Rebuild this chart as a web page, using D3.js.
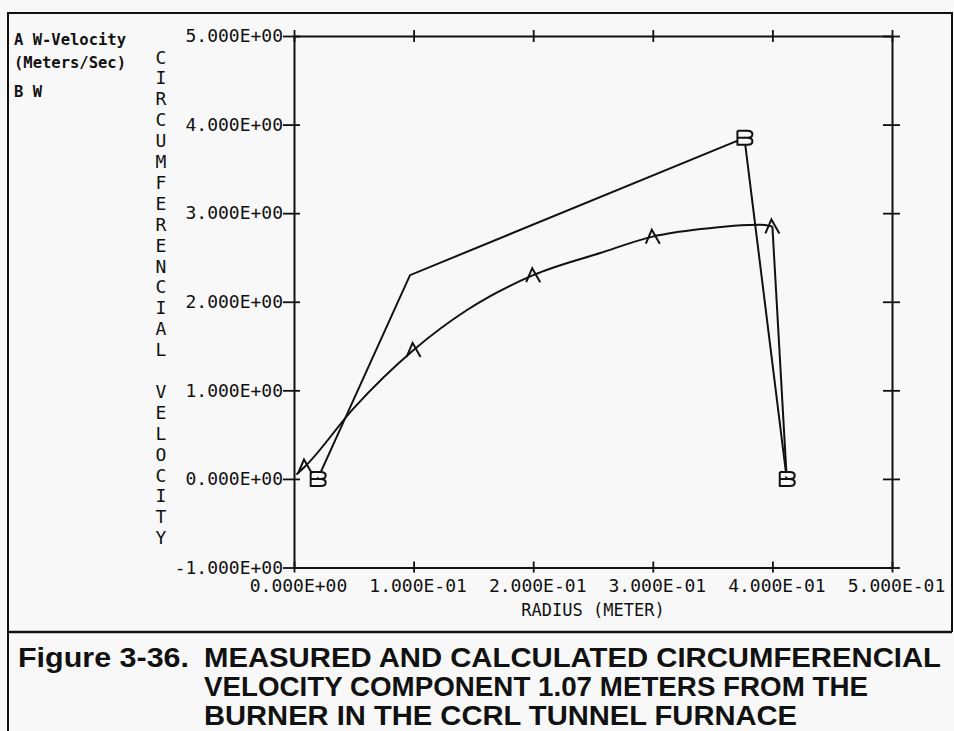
<!DOCTYPE html>
<html>
<head>
<meta charset="utf-8">
<script src="https://cdn.jsdelivr.net/npm/d3@7"></script>
<style>
  html, body { margin: 0; padding: 0; background: #f8f8f8; }
  svg { display: block; }
</style>
</head>
<body>
<svg id="chart" width="954" height="731"></svg>
<script>
// ---- data ----
const xTicks = [0, 0.1, 0.2, 0.3, 0.4, 0.5];
const xTickLabels = ["0.000E+00", "1.000E-01", "2.000E-01", "3.000E-01", "4.000E-01", "5.000E-01"];
const yTicks = [-1, 0, 1, 2, 3, 4, 5];
const yTickLabels = ["-1.000E+00", "0.000E+00", "1.000E+00", "2.000E+00", "3.000E+00", "4.000E+00", "5.000E+00"];

// Series A : calculated W-velocity (m/s) vs radius (m)
const seriesARadius = [0.002, 0.0092, 0.05, 0.1, 0.145, 0.2, 0.256, 0.3, 0.34, 0.39, 0.4, 0.412];
const seriesAValue  = [0.05, 0.14, 0.80, 1.456, 1.91, 2.30, 2.55, 2.735, 2.82, 2.87, 2.85, 0.0];
const seriesAMarked = [1, 3, 5, 7, 10];

// Series B : measured W
const seriesBRadius = [0.0198, 0.097, 0.3766, 0.412];
const seriesBValue  = [0.0, 2.30, 3.85, 0.0];
const seriesBMarked = [0, 2, 3];

const legendLines = ["A W-Velocity", "(Meters/Sec)", "B  W"];
const yTitle = "CIRCUMFERENCIAL VELOCITY";
const xTitle = "RADIUS (METER)";
const captionLead = "Figure 3-36.";
const captionLines = [
  "MEASURED AND CALCULATED CIRCUMFERENCIAL",
  "VELOCITY COMPONENT 1.07 METERS FROM THE",
  "BURNER IN THE CCRL TUNNEL FURNACE"
];

// ---- drawing ----
const svg = d3.select("#chart");
const ink = "#111";
const mono = "'DejaVu Sans Mono', 'Liberation Mono', monospace";

svg.append("rect").attr("width", 954).attr("height", 731).attr("fill", "#f8f8f8");

// frame
const frame = svg.append("g").attr("stroke", ink).attr("stroke-width", 2).attr("fill", "none");
frame.append("path").attr("d", "M8,731 V13 H952 V632");
frame.append("path").attr("d", "M8,632 H952").attr("stroke-width", 2.5);

const x = d3.scaleLinear().domain([0, 0.5]).range([294, 892]);
const y = d3.scaleLinear().domain([-1, 5]).range([567.5, 36]);

// axes
function styleAxis(g) {
  g.select(".domain").attr("stroke", ink).attr("stroke-width", 2);
  g.selectAll(".tick line").attr("stroke", ink).attr("stroke-width", 1.8);
  g.selectAll("text").attr("fill", ink).attr("font-family", mono).attr("font-size", 18);
}

const axLeft = svg.append("g").attr("transform", `translate(${x(0)},0)`)
  .call(d3.axisLeft(y).tickValues(yTicks).tickFormat((d, i) => yTickLabels[i]).tickSize(11).tickPadding(0).tickSizeOuter(0));
styleAxis(axLeft);
axLeft.selectAll(".tick line").attr("x1", -11).attr("x2", 6);

const axRight = svg.append("g").attr("transform", `translate(${x(0.5)},0)`)
  .call(d3.axisRight(y).tickValues(yTicks).tickFormat("").tickSize(8).tickSizeOuter(0));
styleAxis(axRight);
axRight.selectAll(".tick line").attr("x1", -9).attr("x2", 8);

const axBottom = svg.append("g").attr("transform", `translate(0,${y(-1)})`)
  .call(d3.axisBottom(x).tickValues(xTicks).tickFormat((d, i) => xTickLabels[i]).tickSize(5).tickPadding(8).tickSizeOuter(0));
styleAxis(axBottom);
axBottom.selectAll(".tick line").attr("y1", -6).attr("y2", 5);
axBottom.selectAll(".tick text").attr("dx", 4).attr("dy", "0.71em").attr("y", 12);

const axTop = svg.append("g").attr("transform", `translate(0,${y(5)})`)
  .call(d3.axisTop(x).tickValues(xTicks).tickFormat("").tickSize(6).tickSizeOuter(0));
styleAxis(axTop);
axTop.selectAll(".tick line").attr("y1", -6).attr("y2", 6);

// y title: stacked letters
const yt = svg.append("g").attr("font-family", mono).attr("font-size", 18).attr("fill", ink).attr("text-anchor", "middle");
yTitle.split("").forEach((ch, i) => {
  if (ch === " ") return;
  yt.append("text").attr("x", 161).attr("y", 57 + i * 20.9 + 6.5).text(ch);
});

// x title
svg.append("text").attr("x", 593).attr("y", 616).attr("text-anchor", "middle")
  .attr("font-family", mono).attr("font-size", 17).attr("fill", ink).text(xTitle);

// legend
const lg = svg.append("g").attr("font-family", mono).attr("font-size", 15.5).attr("fill", ink).attr("font-weight", "bold");
[45, 68, 97].forEach((yy, i) => {
  lg.append("text").attr("x", 14).attr("y", yy).text(legendLines[i]);
});

// data lines
const ptsA = seriesARadius.map((r, i) => [r, seriesAValue[i]]);
const ptsB = seriesBRadius.map((r, i) => [r, seriesBValue[i]]);

const lineA = d3.line().x(d => x(d[0])).y(d => y(d[1])).curve(d3.curveMonotoneX);
const lineB = d3.line().x(d => x(d[0])).y(d => y(d[1]));

svg.append("path").attr("d", lineA(ptsA.slice(0, ptsA.length - 1)))
  .attr("fill", "none").attr("stroke", ink).attr("stroke-width", 2);
svg.append("path").attr("d", lineB(ptsA.slice(ptsA.length - 2)))
  .attr("fill", "none").attr("stroke", ink).attr("stroke-width", 2);
svg.append("path").attr("d", lineB(ptsB))
  .attr("fill", "none").attr("stroke", ink).attr("stroke-width", 2);

// markers
const aPath = "M-7,7 L-1,-7 L7,7";
svg.append("g").selectAll("path").data(seriesAMarked.map(i => ptsA[i])).join("path")
  .attr("transform", d => `translate(${x(d[0])},${y(d[1])})`)
  .attr("d", aPath).attr("fill", "none").attr("stroke", ink).attr("stroke-width", 2);

const bPath = "M-7,-7 V7 H3 Q8,7 8,3.5 Q8,0 3,0 H-7 M-7,-7 H3 Q8,-7 8,-3.5 Q8,0 3,0";
svg.append("g").selectAll("path").data(seriesBMarked.map(i => ptsB[i])).join("path")
  .attr("transform", d => `translate(${x(d[0])},${y(d[1])})`)
  .attr("d", bPath).attr("fill", "#f8f8f8").attr("stroke", ink).attr("stroke-width", 2)
  .attr("stroke-linejoin", "round");

// caption
const cap = svg.append("g").attr("font-family", "'Liberation Sans', Arial, sans-serif")
  .attr("font-weight", "bold").attr("font-size", 27).attr("fill", ink);
cap.append("text").attr("x", 18).attr("y", 667).attr("textLength", 171).attr("lengthAdjust", "spacingAndGlyphs").text(captionLead);
const capWidths = [737, 664, 593];
captionLines.forEach((t, i) => {
  cap.append("text").attr("x", 204).attr("y", 667 + i * 29)
    .attr("textLength", capWidths[i]).attr("lengthAdjust", "spacingAndGlyphs").text(t);
});
</script>
</body>
</html>
